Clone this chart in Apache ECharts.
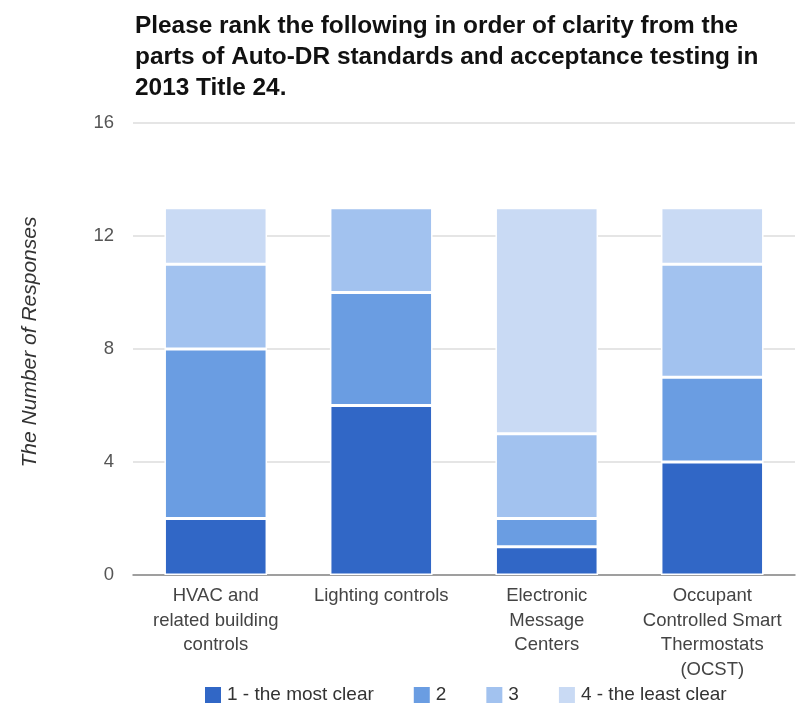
<!DOCTYPE html>
<html>
<head>
<meta charset="utf-8">
<script src="https://cdn.jsdelivr.net/npm/echarts@6/dist/echarts.min.js"></script>
<style>
  html, body { margin: 0; padding: 0; background: #fff; }
  #chart { width: 796px; height: 705px; }
</style>
</head>
<body>
<div id="chart"></div>
<script>
// Survey categories and the count of responses at each clarity rank
const categories = [
  'HVAC and\nrelated building\ncontrols',
  'Lighting controls',
  'Electronic\nMessage\nCenters',
  'Occupant\nControlled Smart\nThermostats\n(OCST)'
];
const rankNames = ['1 - the most clear', '2', '3', '4 - the least clear'];
const rank1 = [2, 6, 1, 4];
const rank2 = [6, 4, 1, 3];
const rank3 = [3, 3, 3, 4];
const rank4 = [2, 0, 8, 2];
const rankColors = ['#3167c6', '#6a9de2', '#a2c2ef', '#c9daf4'];

const rankData = [rank1, rank2, rank3, rank4];
const font = '"Liberation Sans", Arial, sans-serif';

const chart = echarts.init(document.getElementById('chart'), null, { renderer: 'canvas' });
chart.setOption({
  animation: false,
  textStyle: { fontFamily: font },
  title: {
    text: 'Please rank the following in order of clarity from the\nparts of Auto-DR standards and acceptance testing in\n2013 Title 24.',
    left: 130,
    top: 6,
    textStyle: { fontSize: 24.4, fontWeight: 'bold', color: '#111', lineHeight: 31, fontFamily: font }
  },
  legend: {
    top: 680,
    left: 198,
    itemWidth: 18,
    itemHeight: 18,
    itemGap: 38,
    icon: 'rect',
    textStyle: { fontSize: 19, color: '#333', fontFamily: font },
    data: rankNames
  },
  grid: { left: 133, right: 1, top: 123, bottom: 130 },
  xAxis: {
    type: 'category',
    data: categories,
    axisTick: { show: false },
    axisLine: { lineStyle: { color: '#888', width: 1.5 } },
    axisLabel: { fontSize: 18.5, color: '#444', lineHeight: 24.5, margin: 9, interval: 0, fontFamily: font }
  },
  yAxis: {
    type: 'value',
    min: 0,
    max: 16,
    interval: 4,
    name: 'The Number of Responses',
    nameLocation: 'middle',
    nameGap: 92,
    nameTextStyle: { fontSize: 21, fontStyle: 'italic', color: '#333', fontFamily: font, padding: [0, 0, 0, 14] },
    axisLine: { show: false },
    axisTick: { show: false },
    axisLabel: { fontSize: 18.5, color: '#555', margin: 19, fontFamily: font },
    splitLine: { lineStyle: { color: '#dcdcdc', width: 1.5 } }
  },
  series: rankNames.map((name, i) => ({
    name: name,
    type: 'bar',
    stack: 'total',
    barWidth: '62%',
    data: rankData[i],
    itemStyle: { color: rankColors[i], borderColor: '#fff', borderWidth: 1.5 }
  }))
});
</script>
</body>
</html>
